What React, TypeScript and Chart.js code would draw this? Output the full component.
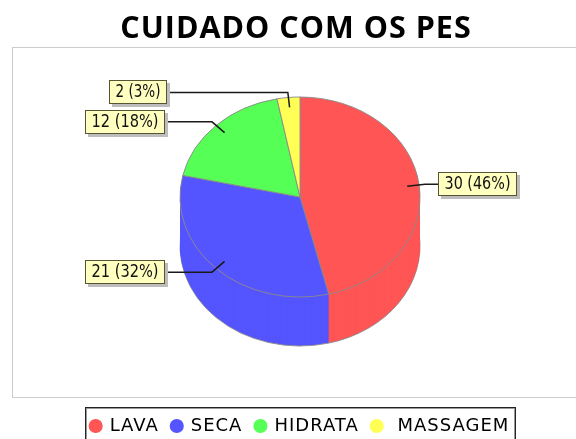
import React, { useEffect, useRef } from "react";
import { Chart, registerables } from "chart.js";

Chart.register(...registerables);

const categories = ["LAVA", "SECA", "HIDRATA", "MASSAGEM"];
const values = [30, 21, 12, 2];
const sliceLabels = ["30 (46%)", "21 (32%)", "12 (18%)", "2 (3%)"];
const colors = ["#FF5555", "#5555FF", "#55FF55", "#FFFF55"];
const boxLeft = [438, 85, 85, 109];
const boxRight = [517, 165, 165, 167];

const CX = 300, CY = 197, RX = 120, RY = 100, DEPTH = 49;
const OUTLINE = "#8a8a8a";
const SPACING = "1px";

const piePlugin = {
  id: "pie3d",
  beforeLayout(chart: any) {
    chart.ctx.letterSpacing = SPACING;
  },
  afterLayout(chart: any) {
    chart.legend.left += 4;
    chart.legend.right += 4;
    chart.legend.top += 6;
    chart.legend.bottom += 6;
  },
  beforeDraw(chart: any) {
    const { ctx } = chart;
    ctx.letterSpacing = SPACING;
    ctx.save();
    ctx.strokeStyle = "#cccccc";
    ctx.lineWidth = 1;
    ctx.strokeRect(12.5, 47.5, 570, 350);
    ctx.strokeStyle = "#222222";
    ctx.strokeRect(85.5, 407.5, 430, 40);
    ctx.strokeStyle = "#999999";
    ctx.strokeRect(86.5, 408.5, 428, 40);
    ctx.restore();
  },
  beforeDatasetsDraw(chart: any) {
    const { ctx } = chart;
    const arcs = chart.getDatasetMeta(0).data;
    const a0 = arcs[0];
    const apply = (dy: number) => {
      ctx.translate(CX, CY + dy);
      ctx.scale(1, RY / RX);
      ctx.translate(-a0.x, -a0.y);
    };
    for (let d = DEPTH; d >= 1; d--) {
      ctx.save();
      apply(d);
      for (const arc of arcs) {
        const copy = Object.create(arc);
        if (d !== DEPTH) copy.options = { ...arc.options, borderWidth: 0 };
        copy.draw(ctx);
      }
      ctx.restore();
    }
    ctx.save();
    apply(0);
  },
  afterDatasetsDraw(chart: any) {
    const { ctx } = chart;
    ctx.restore();
    const arcs = chart.getDatasetMeta(0).data;
    arcs.forEach((arc: any, i: number) => {
      const mid = (arc.startAngle + arc.endAngle) / 2;
      const at = (f: number) => ({
        x: CX + Math.cos(mid) * RX * f,
        y: CY + Math.sin(mid) * RY * f,
      });
      const inner = at(0.9);
      const elbow = at(1.05);
      const isRight = boxLeft[i] > CX;
      const boxH = 24;
      const top = Math.round(elbow.y - boxH / 2);
      const left = boxLeft[i];
      const w = boxRight[i] - left;
      ctx.save();
      ctx.letterSpacing = "0px";
      ctx.strokeStyle = "#1a1a1a";
      ctx.lineWidth = 1.5;
      ctx.beginPath();
      ctx.moveTo(inner.x, inner.y);
      ctx.lineTo(elbow.x, elbow.y);
      ctx.lineTo(isRight ? left : left + w + 3, elbow.y);
      ctx.stroke();
      ctx.fillStyle = "#bdbdbd";
      ctx.fillRect(left + 3, top + 3, w, boxH);
      ctx.fillStyle = "#FFFFC0";
      ctx.fillRect(left, top, w, boxH);
      ctx.strokeStyle = "#555533";
      ctx.lineWidth = 1;
      ctx.strokeRect(left + 0.5, top + 0.5, w - 1, boxH - 1);
      ctx.fillStyle = "#111111";
      ctx.font = "18px 'DejaVu Sans'";
      ctx.textAlign = "center";
      ctx.textBaseline = "middle";
      ctx.fillText(sliceLabels[i], left + w / 2, top + boxH / 2 + 0.5, w - 13);
      ctx.restore();
    });
  },
};

export default function App() {
  const ref = useRef<HTMLCanvasElement>(null);
  useEffect(() => {
    const chart = new Chart(ref.current!, {
      type: "pie",
      data: {
        labels: categories,
        datasets: [
          {
            data: values,
            backgroundColor: colors,
            borderColor: OUTLINE,
            borderWidth: 1,
            radius: RX,
            clip: false,
          } as any,
        ],
      },
      options: {
        responsive: false,
        animation: false,
        layout: { padding: { left: 16, top: 0, right: 0, bottom: 0 } },
        plugins: {
          tooltip: { enabled: false },
          title: {
            display: true,
            text: "CUIDADO COM OS PES",
            color: "#000000",
            font: { family: "'Open Sans'", size: 30.5, weight: "bold" },
            padding: { top: 11, bottom: 8 },
          },
          legend: {
            display: true,
            position: "bottom",
            onClick: () => {},
            labels: {
              usePointStyle: true,
              boxHeight: 10,
              boxWidth: 10,
              padding: 13,
              color: "#222222",
              font: { family: "'DejaVu Sans'", size: 18, weight: "normal" },
              generateLabels: () =>
                categories.map((t, i) => ({
                  text: i === 3 ? " " + t : t,
                  fillStyle: colors[i],
                  strokeStyle: colors[i],
                  lineWidth: 0,
                  pointStyle: "circle",
                  hidden: false,
                  index: i,
                })),
            },
          },
        },
      },
      plugins: [piePlugin],
    } as any);
    return () => chart.destroy();
  }, []);
  return (
    <div style={{ position: "absolute", left: 0, top: 0 }}>
      <canvas ref={ref} width={576} height={439} style={{ display: "block" }} />
    </div>
  );
}
